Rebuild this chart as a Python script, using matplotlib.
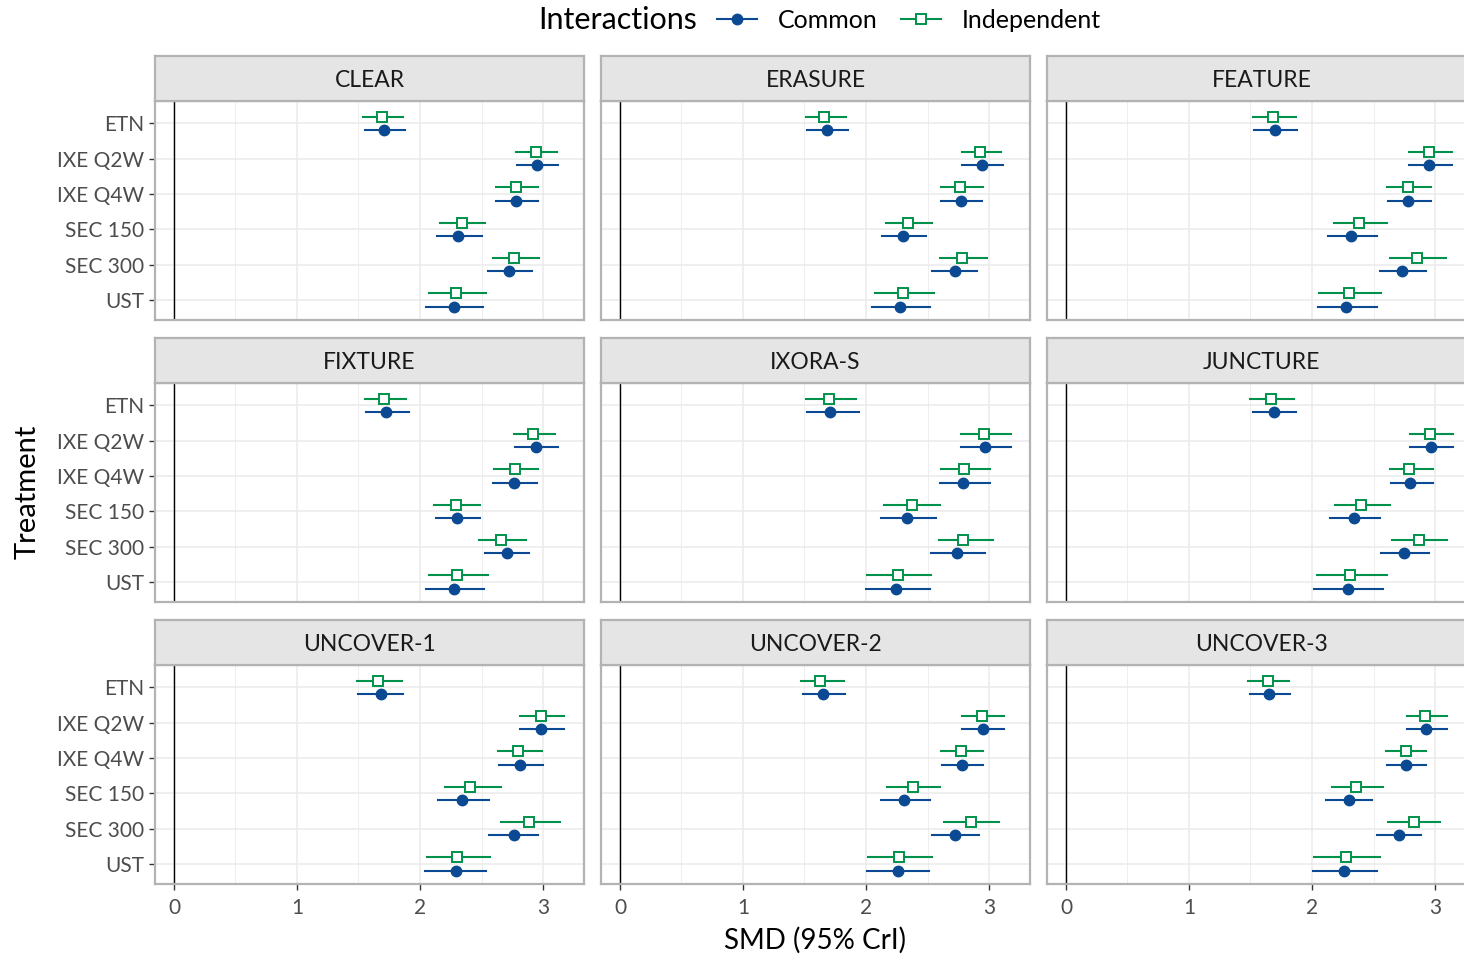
import matplotlib.pyplot as plt
from matplotlib.lines import Line2D

plt.rcParams['font.family'] = ['Lato', 'DejaVu Sans']

trials = ['CLEAR', 'ERASURE', 'FEATURE', 'FIXTURE', 'IXORA-S', 'JUNCTURE',
          'UNCOVER-1', 'UNCOVER-2', 'UNCOVER-3']
treatments = ['ETN', 'IXE Q2W', 'IXE Q4W', 'SEC 150', 'SEC 300', 'UST']

# Common interactions: estimate, lower, upper (per trial, per treatment)
common_est = [
    [1.71, 2.95, 2.78, 2.31, 2.72, 2.28],
    [1.68, 2.94, 2.77, 2.30, 2.72, 2.28],
    [1.70, 2.95, 2.78, 2.32, 2.73, 2.28],
    [1.72, 2.94, 2.76, 2.30, 2.71, 2.28],
    [1.71, 2.97, 2.79, 2.33, 2.74, 2.24],
    [1.69, 2.97, 2.80, 2.34, 2.75, 2.29],
    [1.68, 2.98, 2.81, 2.34, 2.76, 2.29],
    [1.65, 2.95, 2.78, 2.31, 2.72, 2.26],
    [1.65, 2.93, 2.76, 2.30, 2.71, 2.26],
]
common_lo = [
    [1.55, 2.79, 2.62, 2.14, 2.55, 2.05],
    [1.52, 2.78, 2.61, 2.13, 2.54, 2.05],
    [1.53, 2.79, 2.62, 2.13, 2.55, 2.05],
    [1.56, 2.77, 2.59, 2.13, 2.53, 2.05],
    [1.52, 2.77, 2.60, 2.12, 2.53, 2.00],
    [1.52, 2.80, 2.64, 2.15, 2.56, 2.02],
    [1.50, 2.81, 2.64, 2.15, 2.56, 2.04],
    [1.49, 2.78, 2.62, 2.12, 2.54, 2.01],
    [1.50, 2.77, 2.61, 2.11, 2.53, 2.01],
]
common_hi = [
    [1.88, 3.12, 2.96, 2.50, 2.91, 2.51],
    [1.85, 3.11, 2.94, 2.49, 2.90, 2.52],
    [1.88, 3.14, 2.97, 2.53, 2.93, 2.53],
    [1.91, 3.12, 2.95, 2.49, 2.89, 2.52],
    [1.94, 3.18, 3.01, 2.57, 2.97, 2.52],
    [1.87, 3.15, 2.98, 2.55, 2.95, 2.58],
    [1.86, 3.17, 3.00, 2.56, 2.96, 2.54],
    [1.83, 3.12, 2.95, 2.52, 2.92, 2.51],
    [1.82, 3.10, 2.93, 2.49, 2.89, 2.53],
]
# Independent interactions
indep_est = [
    [1.69, 2.94, 2.78, 2.34, 2.76, 2.29],
    [1.66, 2.93, 2.76, 2.34, 2.78, 2.30],
    [1.68, 2.95, 2.78, 2.38, 2.85, 2.30],
    [1.71, 2.92, 2.77, 2.29, 2.66, 2.30],
    [1.70, 2.96, 2.80, 2.37, 2.79, 2.26],
    [1.67, 2.96, 2.79, 2.40, 2.87, 2.31],
    [1.66, 2.98, 2.80, 2.41, 2.89, 2.30],
    [1.63, 2.94, 2.77, 2.38, 2.85, 2.27],
    [1.64, 2.92, 2.76, 2.36, 2.83, 2.28],
]
indep_lo = [
    [1.54, 2.78, 2.62, 2.16, 2.59, 2.07],
    [1.51, 2.78, 2.61, 2.16, 2.60, 2.07],
    [1.52, 2.79, 2.61, 2.18, 2.63, 2.06],
    [1.55, 2.76, 2.60, 2.11, 2.48, 2.07],
    [1.51, 2.77, 2.61, 2.15, 2.59, 2.01],
    [1.50, 2.80, 2.63, 2.19, 2.65, 2.04],
    [1.49, 2.81, 2.63, 2.20, 2.66, 2.06],
    [1.47, 2.78, 2.61, 2.17, 2.63, 2.02],
    [1.48, 2.77, 2.60, 2.16, 2.62, 2.02],
]
indep_hi = [
    [1.86, 3.11, 2.96, 2.53, 2.97, 2.54],
    [1.84, 3.10, 2.95, 2.54, 2.98, 2.55],
    [1.87, 3.14, 2.97, 2.61, 3.09, 2.56],
    [1.89, 3.10, 2.96, 2.49, 2.86, 2.55],
    [1.92, 3.18, 3.01, 2.60, 3.03, 2.53],
    [1.85, 3.15, 2.98, 2.63, 3.10, 2.61],
    [1.85, 3.17, 2.99, 2.66, 3.14, 2.57],
    [1.82, 3.12, 2.95, 2.60, 3.08, 2.54],
    [1.81, 3.10, 2.93, 2.58, 3.04, 2.55],
]

blue = '#0B4A92'
green = '#00924A'
grid_c = '#EBEBEB'
border_c = '#B3B3B3'

W, H = 1464, 958
fig = plt.figure(figsize=(W / 100, H / 100), dpi=100)

col_left = [155, 601, 1047]
panel_w = 429
row_top = [101, 383, 665]
panel_h = 219
strip_h = 45

ypos = list(range(len(treatments)))[::-1]
dodge = 0.19

for k, trial in enumerate(trials):
    r, c = divmod(k, 3)
    x0, y0 = col_left[c], row_top[r]
    ax = fig.add_axes([x0 / W, 1 - (y0 + panel_h) / H, panel_w / W, panel_h / H])
    ax.set_xlim(-0.154, 3.333)
    ax.set_ylim(-0.57, 5.63)
    ax.set_xticks([0, 1, 2, 3])
    ax.set_xticks([0.5, 1.5, 2.5], minor=True)
    ax.set_yticks(ypos)
    ax.set_yticklabels(treatments)
    ax.grid(True, which='major', color=grid_c, lw=1.1, zorder=0)
    ax.grid(True, which='minor', axis='x', color=grid_c, lw=0.6, zorder=0)
    ax.set_axisbelow(True)
    ax.axvline(0, color='black', lw=1.0, zorder=1)

    yc = [y - dodge for y in ypos]
    yi = [y + dodge for y in ypos]
    for j in range(len(treatments)):
        ax.plot([common_lo[k][j], common_hi[k][j]], [yc[j], yc[j]], color=blue, lw=1.5, zorder=2)
        ax.plot([indep_lo[k][j], indep_hi[k][j]], [yi[j], yi[j]], color=green, lw=1.5, zorder=2)
    ax.plot(common_est[k], yc, 'o', color=blue, ms=7.5, zorder=3, ls='none')
    ax.plot(indep_est[k], yi, 's', mfc='white', mec=green, mew=1.4, ms=7.0, zorder=3, ls='none')

    for s in ax.spines.values():
        s.set_color(border_c)
        s.set_linewidth(1.6)
    ax.tick_params(which='major', length=4, width=1, color='#333333', labelcolor='#4D4D4D', labelsize=15)
    ax.tick_params(axis='x', pad=6)
    ax.tick_params(which='minor', length=0)
    if c != 0:
        ax.tick_params(axis='y', left=False, labelleft=False)
    if r != 2:
        ax.tick_params(axis='x', bottom=False, labelbottom=False)

    sax = fig.add_axes([x0 / W, 1 - y0 / H, panel_w / W, strip_h / H])
    sax.set_xticks([])
    sax.set_yticks([])
    sax.set_facecolor('#E5E5E5')
    for s in sax.spines.values():
        s.set_color(border_c)
        s.set_linewidth(1.6)
    sax.text(0.5, 0.46, trial, ha='center', va='center', fontsize=16.5, color='#1A1A1A',
             transform=sax.transAxes)

fig.text(815 / W, 1 - 940 / H, 'SMD (95% CrI)', ha='center', va='center', fontsize=20)
fig.text(28 / W, 1 - 492 / H, 'Treatment', ha='center', va='center', rotation=90, fontsize=21)

fig.text(697 / W, 1 - 20 / H, 'Interactions', ha='right', va='center', fontsize=22)
handles = [
    Line2D([], [], color=blue, lw=1.5, marker='o', ms=7.5),
    Line2D([], [], color=green, lw=1.5, marker='s', mfc='white', mec=green, mew=1.4, ms=7.0),
]
fig.legend(handles, ['Common', 'Independent'], loc='center left', bbox_to_anchor=(717 / W, 1 - 20 / H),
           ncol=2, frameon=False, fontsize=18, handlelength=1.6, columnspacing=0.9,
           handletextpad=0.85, borderpad=0, borderaxespad=0)

fig.savefig('out.png', dpi=100)
